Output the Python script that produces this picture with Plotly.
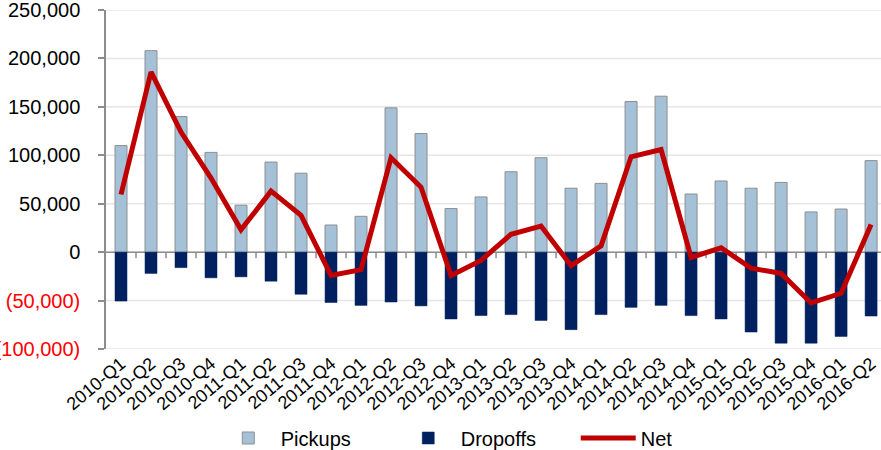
import plotly.graph_objects as go

quarters = [
    "2010-Q1", "2010-Q2", "2010-Q3", "2010-Q4",
    "2011-Q1", "2011-Q2", "2011-Q3", "2011-Q4",
    "2012-Q1", "2012-Q2", "2012-Q3", "2012-Q4",
    "2013-Q1", "2013-Q2", "2013-Q3", "2013-Q4",
    "2014-Q1", "2014-Q2", "2014-Q3", "2014-Q4",
    "2015-Q1", "2015-Q2", "2015-Q3", "2015-Q4",
    "2016-Q1", "2016-Q2",
]
pickups = [
    110000, 208000, 140000, 103000,
    48500, 93000, 81500, 28000,
    37000, 149000, 122500, 45000,
    57000, 83000, 97500, 66000,
    71000, 155500, 161000, 60000,
    73500, 66000, 72000, 41500,
    44500, 94500,
]
dropoffs = [
    -50500, -22000, -16000, -26500,
    -25500, -30000, -43500, -52000,
    -55000, -51500, -55500, -69000,
    -65500, -64500, -70500, -80000,
    -64500, -57000, -55000, -65500,
    -69000, -82500, -94000, -94000,
    -87000, -66000,
]
net = [
    59500, 186000, 124000, 76500,
    23000, 63000, 38000, -24000,
    -18000, 97500, 67000, -24000,
    -8500, 18500, 27000, -14000,
    6500, 98500, 106000, -5500,
    4500, -16500, -22000, -52500,
    -42500, 28500,
]
y_ticks = [-100000, -50000, 0, 50000, 100000, 150000, 200000, 250000]

FONT = "Liberation Sans, Arial, sans-serif"
GRID = "#E6E6E6"
AXIS = "#8C8C8C"


def fmt_tick(v):
    if v < 0:
        return f'<span style="color:#FF0000">({abs(v):,})</span>'
    return f"{v:,}"


x = list(range(len(quarters)))

fig = go.Figure()
fig.add_trace(go.Bar(
    x=x, y=pickups, name="Pickups", width=0.4,
    marker=dict(color="#A4C1D8", line=dict(color="#8E8E8E", width=1)),
))
fig.add_trace(go.Bar(
    x=x, y=dropoffs, name="Dropoffs", width=0.4,
    marker=dict(color="#002060", line=dict(color="#002060", width=0.5)),
))
fig.add_trace(go.Scatter(
    x=x, y=net, name="Net", mode="lines",
    line=dict(color="#C00000", width=5),
))

# horizontal gridlines at every value tick
for v in y_ticks:
    fig.add_shape(
        type="line", xref="paper", x0=0, x1=1, yref="y", y0=v, y1=v,
        line=dict(color=GRID, width=1.5), layer="below",
    )
# category axis running along zero, with tick marks between quarters
fig.add_shape(
    type="line", xref="paper", x0=0, x1=1, yref="y", y0=0, y1=0,
    line=dict(color=AXIS, width=1.5), layer="below",
)
for i in x:
    fig.add_shape(
        type="line", xref="x", x0=i + 0.5, x1=i + 0.5,
        yref="y", ysizemode="pixel", yanchor=0, y0=0, y1=-6,
        line=dict(color=AXIS, width=1.5), layer="below",
    )

fig.update_layout(
    template="none",
    width=881, height=450,
    margin=dict(l=106, r=0, t=10, b=101, autoexpand=False),
    paper_bgcolor="white", plot_bgcolor="white",
    barmode="relative",
    font=dict(family=FONT, color="#000000"),
    showlegend=True,
    legend=dict(
        orientation="h", x=0.49, xanchor="center", y=-0.2625, yanchor="middle",
        font=dict(size=20, family=FONT), itemwidth=55, entrywidth=110,
        traceorder="normal", bgcolor="rgba(0,0,0,0)",
    ),
    xaxis=dict(
        range=[-0.5, 25.33], automargin=False,
        tickmode="array", tickvals=x, ticktext=quarters, tickangle=-40,
        tickfont=dict(size=18, family=FONT),
        showgrid=False, zeroline=False, showline=False, ticks="",
    ),
    yaxis=dict(
        range=[y_ticks[0], y_ticks[-1]], automargin=False,
        tickmode="array", tickvals=y_ticks, ticktext=[fmt_tick(v) for v in y_ticks],
        tickfont=dict(size=20, family=FONT),
        ticklabelstandoff=14, ticklabeloverflow="allow",
        showgrid=False,
        showline=True, linecolor=AXIS, linewidth=1.5,
        ticks="outside", ticklen=6, tickwidth=1.5, tickcolor=AXIS,
        zeroline=False,
    ),
)

fig.write_html("out.html")
